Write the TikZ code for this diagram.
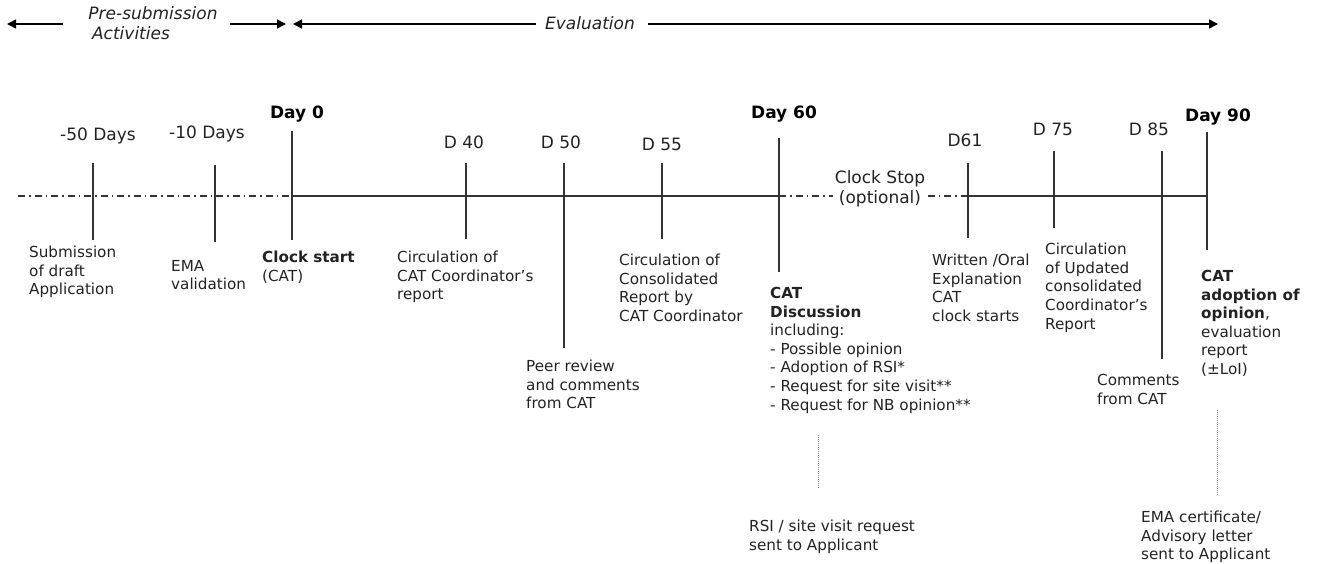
\documentclass[tikz,border=0pt]{standalone}
\usepackage{fontspec}
\setmainfont{DejaVu Sans}
\usetikzlibrary{arrows.meta}
\definecolor{ink}{HTML}{222222}
\definecolor{linec}{HTML}{333333}
\tikzset{
  txt/.style={anchor=north west, inner sep=0pt, align=left, text=ink, font=\fontsize{15.2}{18.6}\selectfont},
  daylbl/.style={anchor=base, inner sep=0pt, text=ink, font=\fontsize{17}{20}\selectfont},
  daybold/.style={anchor=base, inner sep=0pt, text=black, font=\fontsize{17}{20}\selectfont\bfseries},
  phase/.style={anchor=base, inner sep=0pt, text=ink, font=\fontsize{17}{20}\selectfont\itshape},
  tickline/.style={line width=1.5pt, draw=linec},
  axisline/.style={line width=1.5pt, draw=linec},
  dashdotline/.style={line width=1.1pt, draw=linec, dash pattern=on 7pt off 4pt on 1.5pt off 4pt},
  guide/.style={line width=0.9pt, draw=black!45, dash pattern=on 1pt off 1pt},
  parrow/.style={line width=1.5pt, draw=black, -{Triangle[length=9pt,width=9pt]}}
}
\begin{document}
\begin{tikzpicture}[x=1pt,y=-1pt]
\useasboundingbox (0,0) rectangle (1318,564);

% ---- phase arrows ----
\node[phase] (pre1) at (153,20) {Pre-submission};
\node[phase] (pre2) at (131,40) {Activities};
\node[phase] (evl) at (590,30) {Evaluation};
\coordinate (plL) at (7,24);
\coordinate (plA) at (63,24);
\coordinate (plB) at (230,24);
\coordinate (plR) at (286,24);
\coordinate (evL) at (293,24);
\coordinate (evA) at (536,24);
\coordinate (evB) at (648,24);
\coordinate (evR) at (1218,24);
\draw[parrow] (plA) -- (plL);
\draw[parrow] (plB) -- (plR);
\draw[parrow] (evA) -- (evL);
\draw[parrow] (evB) -- (evR);

% ---- axis ----
\coordinate (ax0) at (18,196);
\coordinate (axd0) at (292,196);
\coordinate (axd60) at (779,196);
\coordinate (axd61) at (968,196);
\coordinate (axd90) at (1208,196);
\draw[dashdotline] (ax0) -- (axd0);
\draw[axisline] (axd0) -- (axd60);
\draw[dashdotline] (axd60) -- (axd61);
\draw[axisline] (axd61) -- (axd90);

% ---- ticks ----
\coordinate (m50t) at (93,163);   \coordinate (m50b) at (93,240);
\coordinate (m10t) at (215,165);  \coordinate (m10b) at (215,242);
\coordinate (d0t) at (292,131);   \coordinate (d0b) at (292,240);
\coordinate (d40t) at (466,163);  \coordinate (d40b) at (466,239);
\coordinate (d50t) at (564,163);  \coordinate (d50b) at (564,348);
\coordinate (d55t) at (662,163);  \coordinate (d55b) at (662,239);
\coordinate (d60t) at (779,138);  \coordinate (d60b) at (779,272);
\coordinate (d61t) at (968,163);  \coordinate (d61b) at (968,238);
\coordinate (d75t) at (1054,151); \coordinate (d75b) at (1054,228);
\coordinate (d85t) at (1162,151); \coordinate (d85b) at (1162,359);
\coordinate (d90t) at (1207,132); \coordinate (d90b) at (1207,250);
\foreach \a in {m50,m10,d0,d40,d50,d55,d60,d61,d75,d85,d90}
  \draw[tickline] (\a t) -- (\a b);

% ---- day labels ----
\node[daylbl]  (lm50) at (98,141)   {-50 Days};
\node[daylbl]  (lm10) at (207,139)  {-10 Days};
\node[daybold] (ld0)  at (297,119)  {Day 0};
\node[daylbl]  (ld40) at (464,149)  {D 40};
\node[daylbl]  (ld50) at (561,149)  {D 50};
\node[daylbl]  (ld55) at (662,151)  {D 55};
\node[daybold] (ld60) at (784,119)  {Day 60};
\node[daylbl]  (ld61) at (965,147)  {D61};
\node[daylbl]  (ld75) at (1053,136) {D 75};
\node[daylbl]  (ld85) at (1149,136) {D 85};
\node[daybold] (ld90) at (1218,122) {Day 90};

% ---- clock stop ----
\node[anchor=north, inner xsep=2pt, inner ysep=0.5pt, align=center, fill=white, text=ink,
      font=\fontsize{17}{20}\selectfont] (cstop) at (880,170) {Clock Stop\\(optional)};

% ---- descriptions ----
\node[txt] (tsub)  at (29,246)  {Submission\\of draft\\Application};
\node[txt] (tema)  at (171,260) {EMA\\validation};
\node[txt] (tclk)  at (262,251) {\textbf{Clock start}\\(CAT)};
\node[txt] (tc40)  at (397,251) {Circulation of\\CAT Coordinator’s\\report};
\node[txt] (tpeer) at (526,360) {Peer review\\and comments\\from CAT};
\node[txt] (tc55)  at (619,254) {Circulation of\\Consolidated\\Report by\\CAT Coordinator};
\node[txt] (tdisc) at (770,287) {\textbf{CAT}\\\textbf{Discussion}\\including:\\- Possible opinion\\- Adoption of RSI*\\- Request for site visit**\\- Request for NB opinion**};
\node[txt] (twrit) at (932,254) {Written /Oral\\Explanation\\CAT\\clock starts};
\node[txt] (tc75)  at (1045,243) {Circulation\\of Updated\\consolidated\\Coordinator’s\\Report};
\node[txt] (tcom)  at (1097,374) {Comments\\from CAT};
\node[txt] (tadop) at (1201,270) {\textbf{CAT}\\\textbf{adoption of}\\\textbf{opinion},\\evaluation\\report\\(±LoI)};
\node[txt] (trsi)  at (749,520) {RSI / site visit request\\sent to Applicant};
\node[txt] (tcert) at (1141,511) {EMA certificate/\\Advisory letter\\sent to Applicant};

% ---- dotted guides ----
\coordinate (g1t) at (818,435); \coordinate (g1b) at (818,488);
\coordinate (g2t) at (1217,410); \coordinate (g2b) at (1217,495);
\draw[guide] (g1t) -- (g1b);
\draw[guide] (g2t) -- (g2b);
\end{tikzpicture}
\end{document}
